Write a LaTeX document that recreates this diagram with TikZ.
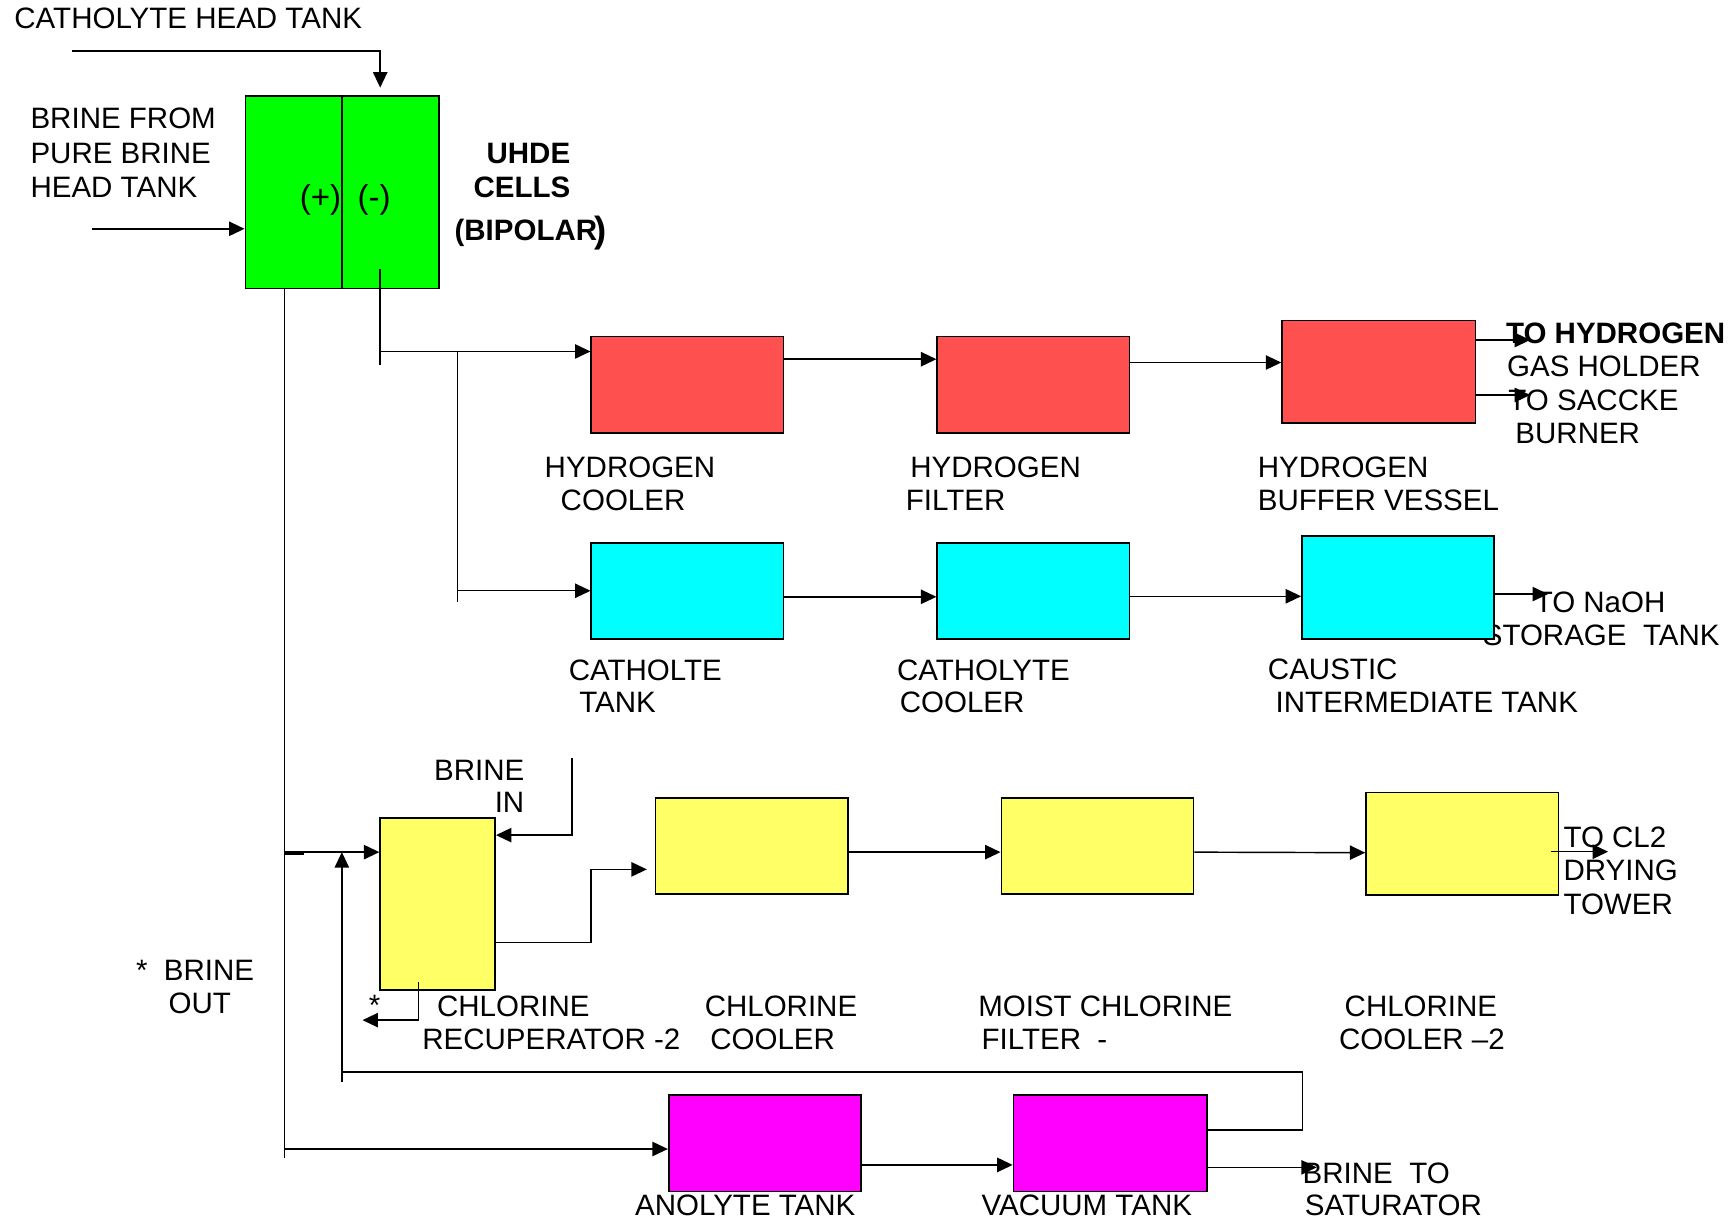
\documentclass[tikz,border=0pt]{standalone}
\usepackage{fontspec}
\setmainfont{Liberation Sans}
\usetikzlibrary{arrows.meta}
\definecolor{cgreen}{HTML}{00FF00}
\definecolor{cred}{HTML}{FF5050}
\definecolor{ccyan}{HTML}{00FFFF}
\definecolor{cyel}{HTML}{FFFF66}
\definecolor{cmag}{HTML}{FF00FF}
\begin{document}
\begin{tikzpicture}[x=1pt,y=-1pt, line width=1.3pt,
  lbl/.style={anchor=base west, inner sep=0pt, font=\fontsize{26.7}{31}\selectfont},
  lblr/.style={lbl, anchor=base east},
  blbl/.style={lbl, font=\fontsize{26.7}{31}\selectfont\bfseries},
  blblr/.style={blbl, anchor=base east},
  sgn/.style={anchor=base, inner sep=0pt, font=\fontsize{30}{34}\selectfont},
  box/.style={draw, line width=1.5pt, inner sep=0pt, minimum width=174pt, minimum height=87pt},
  arr/.style={-{Triangle[length=14pt,width=13pt]}}]
\useasboundingbox (0,0) rectangle (1568,1108);

% ---------- texts ----------
\node[lbl] (t1) at (12.4,26) {CATHOLYTE HEAD TANK};
\node[lbl] (t2) at (27,116.5) {BRINE FROM};
\node[lbl] (t3) at (27,148) {PURE BRINE};
\node[lbl] (t4) at (27,179) {HEAD TANK};
\node[blblr] (t5) at (516.6,148) {UHDE};
\node[blblr] (t6) at (516.6,178.5) {CELLS};
\node[blbl] (t7) at (410.6,217.5) {(BIPOLAR};
\node[blbl, font=\fontsize{33}{36}\selectfont\bfseries] (t8) at (537.5,219) {)};
\node[lbl] (t9) at (492.2,432) {HYDROGEN};
\node[lbl] (t10) at (506.7,462) {COOLER};
\node[lbl] (t11) at (823,432) {HYDROGEN};
\node[lbl] (t12) at (819,462) {FILTER};
\node[lbl] (t13) at (1137.5,432) {HYDROGEN};
\node[lbl] (t14) at (1137.5,462) {BUFFER VESSEL};
\node[blbl] (t15) at (1362,311) {TO HYDROGEN};
\node[lbl] (t16) at (1363,340.5) {GAS HOLDER};
\node[lbl] (t17) at (1364.2,371.5) {TO SACCKE};
\node[lbl] (t18) at (1370.5,401.5) {BURNER};
\node[lbl] (t19) at (514,615.5) {CATHOLTE};
\node[lbl] (t20) at (523.5,644.5) {TANK};
\node[lbl] (t21) at (811,615.5) {CATHOLYTE};
\node[lbl] (t22) at (813.5,644.5) {COOLER};
\node[lbl] (t23) at (1146.6,615) {CAUSTIC};
\node[lbl] (t24) at (1153.6,644.5) {INTERMEDIATE TANK};
\node[lbl] (t25) at (1388,554) {TO NaOH};
\node[lbl] (t26) at (1341,584) {STORAGE\ \ TANK};
\node[lblr] (t27) at (475,706.2) {BRINE};
\node[lblr] (t28) at (475,735) {IN};
\node[lbl] (t29) at (122.4,887.2) {*\ \ BRINE};
\node[lbl] (t30) at (152,917.3) {OUT};
\node[lbl] (t31) at (333,919) {*};
\node[lbl] (t32) at (394.8,919.5) {CHLORINE};
\node[lbl] (t33) at (381.5,949.5) {RECUPERATOR -2};
\node[lbl] (t34) at (637,919.5) {CHLORINE};
\node[lbl] (t35) at (642,949.5) {COOLER};
\node[lbl] (t36) at (884.5,919.5) {MOIST CHLORINE};
\node[lbl] (t37) at (887.5,949.5) {FILTER\ \ -};
\node[lbl] (t38) at (1216,919.5) {CHLORINE};
\node[lbl] (t39) at (1211,949.5) {COOLER –2};
\node[lbl] (t40) at (1414,766.5) {TO CL2};
\node[lbl] (t41) at (1414,796.5) {DRYING};
\node[lbl] (t42) at (1414,827) {TOWER};
\node[lbl] (t43) at (574,1099.5) {ANOLYTE TANK};
\node[lbl] (t44) at (887.5,1099.5) {VACUUM TANK};
\node[lbl] (t45) at (1178,1071) {BRINE\ \ TO};
\node[lbl] (t46) at (1180,1100) {SATURATOR};

% ---------- boxes ----------
\node[box, fill=cgreen, minimum width=175pt, minimum height=174pt] (cell) at (309.5,174) {};
\node[box, fill=cred] (red1) at (622,348) {};
\node[box, fill=cred] (red2) at (935,348) {};
\node[box, fill=cred, minimum width=175pt, minimum height=93pt] (red3) at (1247.5,336.5) {};
\node[box, fill=ccyan] (cy1) at (622,534.5) {};
\node[box, fill=ccyan] (cy2) at (935,534.5) {};
\node[box, fill=ccyan, minimum height=93pt] (cy3) at (1265,531.5) {};
\node[box, fill=cyel, minimum width=104pt, minimum height=156pt] (recup) at (396,818) {};
\node[box, fill=cyel] (ycool) at (680,765.5) {};
\node[box, fill=cyel] (yfilt) at (993,765.5) {};
\node[box, fill=cyel, minimum height=93pt] (ycool2) at (1323,763.5) {};
\node[box, fill=cmag] (anol) at (692,1034.5) {};
\node[box, fill=cmag, minimum width=175pt] (vac) at (1004.5,1034.5) {};

\draw[line width=1.5pt] (cell.north) -- (cell.south);
\node[sgn] (plus) at (290,188.5) {(+)};
\node[sgn] (minus) at (338.5,188.5) {(-)};

% ---------- connectors ----------
\coordinate (cathsrc) at (65,46);
\draw[arr] (cathsrc) -| ([xshift=34.5pt,yshift=7pt]cell.north);
\coordinate (brinesrc) at (83,207);
\draw[arr] (brinesrc) -- ([yshift=-33pt]cell.west);

\coordinate (hA) at (344,243);
\coordinate (hB) at (344,330);
\coordinate (hJ) at (344,318);
\draw (hA) -- (hB);
\draw[arr] (hJ) -- ([yshift=30pt]red1.west);
\coordinate (cJa) at (414,318);
\coordinate (cJb) at (414,545);
\coordinate (cJ) at (414,534.5);
\draw (cJa) -- (cJb);
\draw[arr] (cJ) -- (cy1.west);

\draw[arr] ([yshift=23pt]red1.east) -- ([yshift=23pt]red2.west);
\draw[arr] ([yshift=20pt]red2.east) -- ([yshift=8.5pt]red3.west);
\coordinate (h2a) at (1384.5,307.6);
\coordinate (h2b) at (1384.5,357.4);
\draw[arr] ([yshift=28.9pt]red3.east) -- (h2a);
\draw[arr] ([yshift=-20.9pt]red3.east) -- (h2b);

\draw[arr] ([yshift=-5.5pt]cy1.east) -- ([yshift=-5.5pt]cy2.west);
\draw[arr] ([yshift=-5pt]cy2.east) -- ([yshift=-8pt]cy3.west);
\coordinate (naoh) at (1400.6,537.5);
\draw[arr] ([yshift=-6pt]cy3.east) -- (naoh);

\coordinate (mainbot) at (257.5,1048);
\draw ([xshift=-52pt]cell.south) -- (mainbot);
\coordinate (mJ1) at (257.5,771);
\draw[arr] (mJ1) -- ([yshift=47pt]recup.west);
\coordinate (stubA) at (257.5,772.5);
\coordinate (stubB) at (275,772.5);
\draw[line width=2.2pt] (stubA) -- (stubB);
\coordinate (upA) at (309.3,978.7);
\coordinate (upB) at (309.3,771);
\draw[arr] (upA) -- (upB);

\coordinate (rc1) at (1178.3,970);
\coordinate (rc2) at (309.3,970);
\draw ([yshift=12pt]vac.east) -| (rc1) -- (rc2);

\coordinate (bin) at (517.5,686);
\draw[arr] (bin) |- ([yshift=62.4pt]recup.east);

\coordinate (ro1) at (534.8,852.6);
\coordinate (ro2) at (534.8,786.6);
\draw[arr] ([yshift=-34.6pt]recup.east) -- (ro1) -- (ro2) -- ([xshift=-7pt,yshift=-21.1pt]ycool.west);

\coordinate (boA) at (378.6,888.8);
\coordinate (boB) at (328,923);
\draw[arr] (boA) |- (boB);

\draw[arr] ([yshift=-5.5pt]ycool.east) -- ([yshift=-5.5pt]yfilt.west);
\draw[arr] ([yshift=-5.5pt]yfilt.east) -- ([yshift=-8pt]ycool2.west);
\coordinate (cl2a) at (1403.4,770.6);
\coordinate (cl2b) at (1455,770.6);
\draw[arr] (cl2a) -- (cl2b);

\coordinate (mJ2) at (257.5,1039.6);
\draw[arr] (mJ2) -- ([yshift=-5.1pt]anol.west);
\draw[arr] ([yshift=-19.5pt]anol.east) -- ([yshift=-19.5pt]vac.west);
\coordinate (sat) at (1191.4,1056.2);
\draw[arr] ([yshift=-21.7pt]vac.east) -- (sat);
\end{tikzpicture}
\end{document}
